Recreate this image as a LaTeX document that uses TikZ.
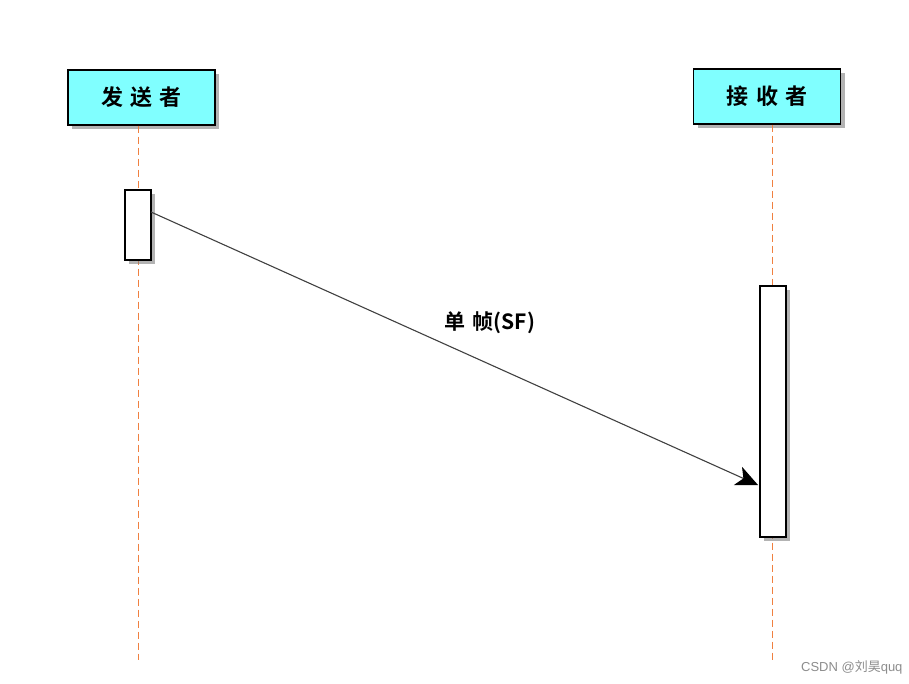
\documentclass[tikz,border=0pt]{standalone}
\usepackage{fontspec}
\newfontfamily\cjk{Noto Sans CJK SC}[BoldFont={Noto Sans CJK SC Bold}]
\setsansfont{Liberation Sans}
\usetikzlibrary{shadows,arrows.meta}
\definecolor{boxcyan}{HTML}{80FFFF}
\definecolor{lifeorange}{HTML}{F08040}
\tikzset{
  actor/.style={draw=black, line width=1.3pt, fill=boxcyan, minimum width=147pt, minimum height=55pt,
    drop shadow={shadow xshift=4pt, shadow yshift=-4pt, opacity=0.6}, font=\cjk\bfseries\fontsize{22}{26}\selectfont},
  act/.style={draw=black, line width=1.3pt, fill=white, minimum width=26pt,
    drop shadow={shadow xshift=4pt, shadow yshift=-4pt, opacity=0.6}},
  lifeline/.style={draw=lifeorange, line width=1pt, dash pattern=on 7pt off 4pt},
  msg/.style={draw=black!75, line width=1.1pt, -{Stealth[length=22pt,width=20pt,inset=6pt,color=black]}},
}
\begin{document}
\begin{tikzpicture}[x=1pt,y=-1pt]
\useasboundingbox (0,0) rectangle (909,684);
\coordinate (l1end) at (138,660);
\coordinate (l2end) at (772,660);
\node[actor] (snd) at (141.5,97.5) {发\,\,送\,\,者};
\node[actor] (rcv) at (767,96.5) {接\,\,收\,\,者};
\draw[lifeline] (snd.south -| l1end) -- (l1end);
\draw[lifeline] (rcv.south -| l2end) -- (l2end);
\node[act, minimum height=70pt] (a1) at (138,225) {};
\node[act, minimum height=251pt] (a2) at (773,411.5) {};
\coordinate (mstart) at (151,212);
\coordinate (mend) at (758,485);
\draw[msg] (mstart) -- (mend);
\node[font=\cjk\bfseries\fontsize{21}{24}\selectfont, text=black] (lbl) at (490,323) {单\,\,帧(SF)};
\node[font=\sffamily\fontsize{13}{15}\selectfont, text=black!45, anchor=east] (wm) at (906,667) {CSDN @{\cjk 刘昊}quq};
\end{tikzpicture}
\end{document}
